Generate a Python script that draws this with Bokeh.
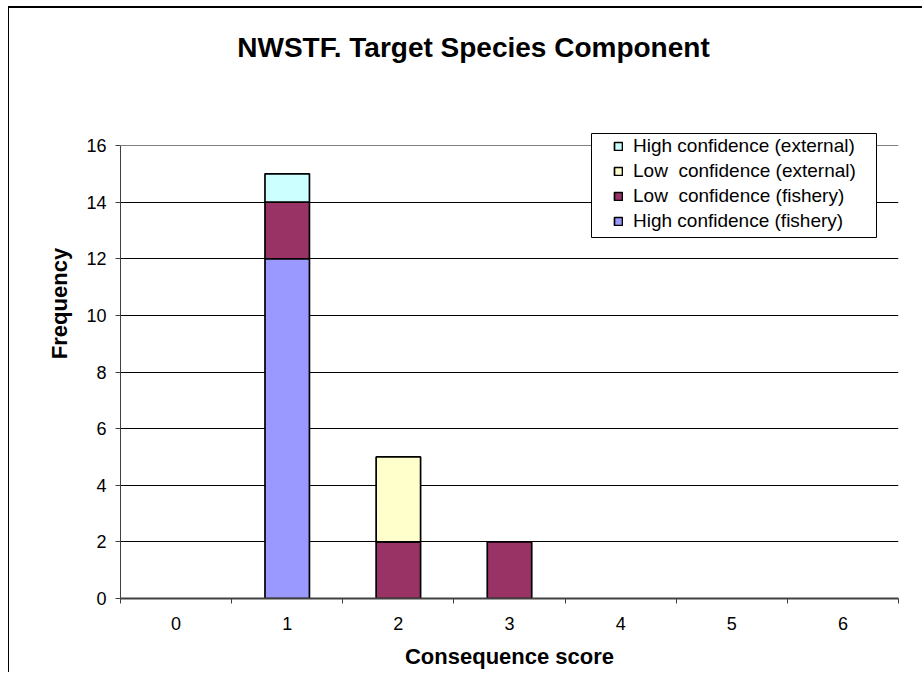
from bokeh.plotting import figure
from bokeh.models import Range1d, FixedTicker, Legend, LegendItem, Label, BoxAnnotation, Grid
from bokeh.embed import file_html
from bokeh.resources import INLINE

# Frequency of consequence scores, stacked by confidence/source
scores = [0, 1, 2, 3, 4, 5, 6]
high_fishery = [0, 12, 0, 0, 0, 0, 0]
low_fishery = [0, 2, 2, 2, 0, 0, 0]
low_external = [0, 0, 3, 0, 0, 0, 0]
high_external = [0, 1, 0, 0, 0, 0, 0]

stack_keys = ["high_fishery", "low_fishery", "low_external", "high_external"]
series_names = [
    "High confidence (fishery)",
    "Low  confidence (fishery)",
    "Low  confidence (external)",
    "High confidence (external)",
]
series_colors = ["#9999FF", "#993366", "#FFFFCC", "#CCFFFF"]

y_ticks = [0, 2, 4, 6, 8, 10, 12, 14, 16]
grid_ticks = [2, 4, 6, 8, 10, 12, 14]
x_bounds = [-0.5, 0.5, 1.5, 2.5, 3.5, 4.5, 5.5, 6.5]
y_max = 16

FONT = "Liberation Sans"

# the frame reaches up to the chart's top edge so the title and legend can sit in it;
# the value axis itself stops at y_max
plot_top_px, axis_top_px, axis_bottom_px = 8, 145, 598
y_end = y_max * (axis_bottom_px - plot_top_px) / (axis_bottom_px - axis_top_px)

p = figure(
    width=914, height=666,
    x_range=Range1d(-0.5, 6.5), y_range=Range1d(0, y_end),
    output_backend="svg", toolbar_location=None,
    min_border_left=111, min_border_right=25,
    min_border_top=0, min_border_bottom=76,
    styles={
        "margin-left": "8px", "margin-top": "6px",
        "border-top": "2px solid #000000", "border-left": "1px solid #000000",
    },
)
p.background_fill_color = "white"
p.border_fill_color = "white"
p.outline_line_color = None

source = dict(scores=scores, high_fishery=high_fishery, low_fishery=low_fishery,
              low_external=low_external, high_external=high_external)
# no outline for empty segments
for key in stack_keys:
    source[key + "_edge"] = [1 if v > 0 else 0 for v in source[key]]
bars = p.vbar_stack(stack_keys, x="scores", width=0.4, source=source,
                    fill_color=series_colors, line_color="black", line_width=1.7,
                    line_alpha=[k + "_edge" for k in stack_keys])

# axes
p.yaxis.ticker = FixedTicker(ticks=y_ticks)
p.yaxis.bounds = (0, y_max)
p.xaxis.ticker = FixedTicker(ticks=scores, minor_ticks=x_bounds)
for ax in (p.xaxis[0], p.yaxis[0]):
    ax.axis_line_color = "#404040"
    ax.major_tick_line_color = "#404040"
    ax.minor_tick_line_color = "#404040"
    ax.major_label_text_font = FONT
    ax.major_label_text_font_size = "18px"
    ax.major_label_text_color = "black"
    ax.axis_label_text_font = FONT
    ax.axis_label_text_font_style = "bold"
    ax.axis_label_text_font_size = "22px"
    ax.axis_label_text_color = "black"
p.xaxis.axis_line_width = 2
p.xaxis.major_tick_out = 0
p.xaxis.major_tick_in = 0
p.xaxis.minor_tick_out = 5
p.xaxis.minor_tick_in = 0
p.xaxis.major_label_standoff = 13
p.xaxis.axis_label = "Consequence score"
p.xaxis.axis_label_standoff = 11

p.yaxis.axis_line_width = 1
p.yaxis.major_tick_out = 5
p.yaxis.major_tick_in = 0
p.yaxis.minor_tick_line_color = None
p.yaxis.major_label_standoff = 9
p.yaxis.axis_label = "Frequency"
p.yaxis.axis_label_standoff = 11

# gridlines, and the grey edge of the plotting area (top and right)
p.xgrid.visible = False
p.ygrid.ticker = FixedTicker(ticks=grid_ticks)
p.ygrid.grid_line_color = "black"
p.ygrid.grid_line_width = 1
p.add_layout(Grid(dimension=1, ticker=FixedTicker(ticks=[y_max]),
                  grid_line_color="#808080", grid_line_width=1))
p.add_layout(Grid(dimension=0, ticker=FixedTicker(ticks=[x_bounds[-1]]), bounds=(0, y_max),
                  grid_line_color="#808080", grid_line_width=1))

# title
p.add_layout(Label(
    x=353, y=551, x_units="screen", y_units="screen",
    text="NWSTF. Target Species Component",
    text_font=FONT, text_font_style="bold", text_font_size="28px",
    text_align="center", text_baseline="alphabetic", text_color="black",
))

# legend frame and items
p.add_layout(BoxAnnotation(
    left=471, right=756, bottom=361, top=465,
    left_units="screen", right_units="screen", bottom_units="screen", top_units="screen",
    fill_color="white", fill_alpha=1, line_color="black", line_alpha=1, line_width=1,
))
# each entry takes its swatch style from a row where that series is present
items = []
for i in (3, 2, 1, 0):
    row = next(j for j, v in enumerate(source[stack_keys[i]]) if v > 0)
    items.append(LegendItem(label=series_names[i], renderers=[bars[i]], index=row))
legend = Legend(
    items=items, location=(493, 366),
    padding=0, spacing=3, label_height=22,
    glyph_width=10, glyph_height=10, label_standoff=10,
    label_text_font=FONT, label_text_font_size="19px", label_text_color="black",
    border_line_alpha=0, background_fill_alpha=0,
)
p.add_layout(legend)

open("out.html", "w").write(file_html(p, INLINE))
